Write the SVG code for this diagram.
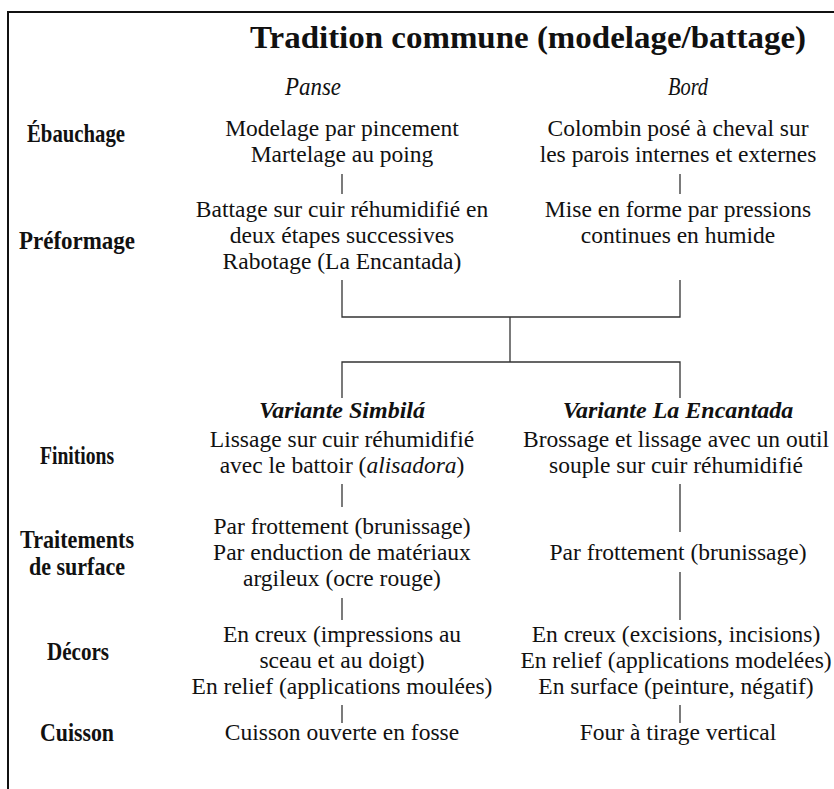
<svg xmlns="http://www.w3.org/2000/svg" width="834" height="789" viewBox="0 0 834 789">
<style>
  text { font-family: "Liberation Serif", "Times New Roman", serif; fill: #111; }
  .t { font-size: 32px; font-weight: bold; }
  .h { font-size: 25px; font-style: italic; text-anchor: middle; }
  .lab { font-size: 26px; font-weight: bold; text-anchor: middle; }
  .b { font-size: 23.5px; text-anchor: middle; }
  .v { font-size: 24px; font-weight: bold; font-style: italic; text-anchor: middle; }
  .ln { stroke: #333; stroke-width: 1.3; fill: none; }
  .frame { stroke: #111; stroke-width: 2; fill: none; }
</style>
<rect width="834" height="789" fill="#fff"/>
<path class="frame" d="M8,789 V12 H834"/>
<text class="t" x="250" y="48" textLength="556" lengthAdjust="spacingAndGlyphs">Tradition commune (modelage/battage)</text>
<text class="h" x="313" y="95" textLength="56" lengthAdjust="spacingAndGlyphs">Panse</text>
<text class="h" x="688" y="95" textLength="40" lengthAdjust="spacingAndGlyphs">Bord</text>
<g id="labels">
  <text class="lab" x="76" y="142" textLength="98" lengthAdjust="spacingAndGlyphs">Ébauchage</text>
  <text class="lab" x="77" y="249" textLength="116" lengthAdjust="spacingAndGlyphs">Préformage</text>
  <text class="lab" x="77" y="464" textLength="74" lengthAdjust="spacingAndGlyphs">Finitions</text>
  <text class="lab" x="77" y="548" textLength="114" lengthAdjust="spacingAndGlyphs">Traitements</text>
  <text class="lab" x="77" y="575" textLength="96" lengthAdjust="spacingAndGlyphs">de surface</text>
  <text class="lab" x="78" y="660" textLength="62" lengthAdjust="spacingAndGlyphs">Décors</text>
  <text class="lab" x="77" y="741" textLength="74" lengthAdjust="spacingAndGlyphs">Cuisson</text>
</g>
<g id="ebauchage-panse">
  <text class="b" x="342" y="136">Modelage par pincement</text>
  <text class="b" x="342" y="162">Martelage au poing</text>
</g>
<g id="ebauchage-bord">
  <text class="b" x="678" y="136">Colombin posé à cheval sur</text>
  <text class="b" x="678" y="162">les parois internes et externes</text>
</g>
<g id="preformage-panse">
  <text class="b" x="342" y="217">Battage sur cuir réhumidifié en</text>
  <text class="b" x="342" y="243">deux étapes successives</text>
  <text class="b" x="342" y="269">Rabotage (La Encantada)</text>
</g>
<g id="preformage-bord">
  <text class="b" x="678" y="217">Mise en forme par pressions</text>
  <text class="b" x="678" y="243">continues en humide</text>
</g>
<g id="variante-simbila">
  <text class="v" x="342" y="418">Variante Simbilá</text>
</g>
<g id="variante-encantada">
  <text class="v" x="678" y="418">Variante La Encantada</text>
</g>
<g id="finitions-simbila">
  <text class="b" x="342" y="447">Lissage sur cuir réhumidifié</text>
  <text class="b" x="342" y="473">avec le battoir (<tspan font-style="italic">alisadora</tspan>)</text>
</g>
<g id="finitions-encantada">
  <text class="b" x="676" y="447">Brossage et lissage avec un outil</text>
  <text class="b" x="676" y="473">souple sur cuir réhumidifié</text>
</g>
<g id="surface-simbila">
  <text class="b" x="342" y="534">Par frottement (brunissage)</text>
  <text class="b" x="342" y="560">Par enduction de matériaux</text>
  <text class="b" x="342" y="586">argileux (ocre rouge)</text>
</g>
<g id="surface-encantada">
  <text class="b" x="678" y="560">Par frottement (brunissage)</text>
</g>
<g id="decors-simbila">
  <text class="b" x="342" y="642">En creux (impressions au</text>
  <text class="b" x="342" y="668">sceau et au doigt)</text>
  <text class="b" x="342" y="694">En relief (applications moulées)</text>
</g>
<g id="decors-encantada">
  <text class="b" x="676" y="642">En creux (excisions, incisions)</text>
  <text class="b" x="676" y="668">En relief (applications modelées)</text>
  <text class="b" x="676" y="694">En surface (peinture, négatif)</text>
</g>
<g id="cuisson-simbila">
  <text class="b" x="342" y="740">Cuisson ouverte en fosse</text>
</g>
<g id="cuisson-encantada">
  <text class="b" x="678" y="740">Four à tirage vertical</text>
</g>
<g id="connectors">
  <path class="ln" d="M342,174 V194"/>
  <path class="ln" d="M680,174 V194"/>
  <path class="ln" d="M342,280 V317 H680 V280"/>
  <path class="ln" d="M510,317 V362"/>
  <path class="ln" d="M342,398 V362 H680 V398"/>
  <path class="ln" d="M342,484 V507"/>
  <path class="ln" d="M680,484 V532"/>
  <path class="ln" d="M342,598 V620"/>
  <path class="ln" d="M680,572 V620"/>
  <path class="ln" d="M342,705 V723"/>
  <path class="ln" d="M680,705 V723"/>
</g>
</svg>
